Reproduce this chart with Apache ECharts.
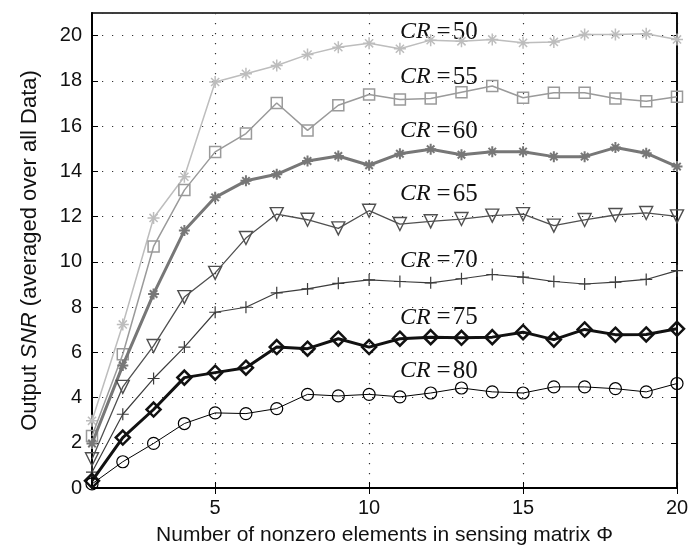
<!DOCTYPE html>
<html><head><meta charset="utf-8">
<script src="https://cdn.jsdelivr.net/npm/echarts@6/dist/echarts.min.js"></script>
<style>html,body{margin:0;padding:0;background:#fff}#c{width:692px;height:558px}</style>
</head><body><div id="c"></div>
<script>
const categories = [1,2,3,4,5,6,7,8,9,10,11,12,13,14,15,16,17,18,19,20];
const cr50 = [2.97,7.23,11.94,13.76,17.95,18.31,18.68,19.16,19.49,19.66,19.42,19.80,19.75,19.83,19.68,19.72,20.05,20.05,20.08,19.83];
const cr55 = [2.30,5.91,10.68,13.17,14.86,15.67,17.02,15.81,16.92,17.40,17.18,17.22,17.50,17.77,17.25,17.47,17.47,17.22,17.10,17.30];
const cr60 = [1.97,5.42,8.58,11.38,12.85,13.58,13.87,14.46,14.68,14.27,14.78,14.98,14.73,14.87,14.87,14.65,14.65,15.05,14.80,14.21];
const cr65 = [1.27,4.47,6.28,8.44,9.51,11.05,12.11,11.86,11.48,12.26,11.67,11.79,11.89,12.04,12.11,11.60,11.85,12.07,12.16,12.01];
const cr70 = [0.70,3.26,4.84,6.23,7.77,7.99,8.63,8.80,9.05,9.20,9.13,9.07,9.25,9.44,9.32,9.13,9.02,9.10,9.22,9.61];
const cr75 = [0.32,2.23,3.47,4.88,5.10,5.32,6.23,6.16,6.60,6.23,6.60,6.67,6.64,6.67,6.89,6.56,7.01,6.78,6.79,7.04];
const cr80 = [0.18,1.16,1.97,2.85,3.32,3.29,3.51,4.14,4.07,4.14,4.03,4.20,4.42,4.25,4.20,4.47,4.47,4.39,4.25,4.62];
const seriesNames = ['50','55','60','65','70','75','80'];
const seriesValues = [cr50, cr55, cr60, cr65, cr70, cr75, cr80];
const labelY = [20.16, 18.17, 15.78, 12.99, 10.05, 7.52, 5.17];
const yTicks = [0,2,4,6,8,10,12,14,16,18,20];

const ASTER = 'path://M5 0L5 10M0 5L10 5M1.6 1.6L8.4 8.4M8.4 1.6L1.6 8.4';
const PLUS = 'path://M5 0L5 10M0 5L10 5';
const styles = [
  {color:'#bdbdbd', w:1.5, sym:ASTER, size:12, bw:1.5, rot:0},
  {color:'#9a9a9a', w:1.5, sym:'rect', size:11, bw:1.5, rot:0},
  {color:'#777777', w:3, sym:ASTER, size:11, bw:2, rot:0},
  {color:'#505050', w:1.3, sym:'triangle', size:13, bw:1.4, rot:180},
  {color:'#3c3c3c', w:1.2, sym:PLUS, size:12, bw:1.2, rot:0},
  {color:'#111111', w:3, sym:'diamond', size:14, bw:2.5, rot:0},
  {color:'#000000', w:1, sym:'circle', size:12, bw:1.2, rot:0}
];

const chart = echarts.init(document.getElementById('c'), null, {renderer:'canvas'});
const every5 = (i) => (i + 1) % 5 === 0;
const serif = 'Liberation Serif';
const series = seriesValues.map((vals, k) => ({
  type:'line', name:'CR'+seriesNames[k], data:vals, xAxisIndex:0, yAxisIndex:0,
  symbol: styles[k].sym, symbolSize: styles[k].size, symbolRotate: styles[k].rot,
  showAllSymbol:true, animation:false, silent:true,
  lineStyle:{color:styles[k].color, width:styles[k].w},
  itemStyle:{color:'rgba(0,0,0,0)', borderColor:styles[k].color, borderWidth:styles[k].bw},
  z: 10 + k,
  markPoint:{
    symbol:'circle', symbolSize:0, animation:false, silent:true,
    data:[{coord:[10, labelY[k]]}],
    label:{show:true, position:'right', distance:0,
      formatter:'{cr|CR}{eq|=}{n|' + seriesNames[k] + '}',
      rich:{
        cr:{fontFamily:serif, fontStyle:'italic', fontSize:24, color:'#111'},
        eq:{fontFamily:serif, fontSize:25, color:'#111', padding:[0,2,0,6]},
        n:{fontFamily:serif, fontSize:25, color:'#111'}
      }
    }
  }
}));

chart.setOption({
  backgroundColor:'#fff',
  animation:false,
  grid:{left:92, right:15, top:13, bottom:70, show:true, borderColor:'#000', borderWidth:1.5},
  xAxis:[{
    type:'category', data:categories, boundaryGap:false, position:'bottom',
    axisLine:{show:true, lineStyle:{color:'#000', width:2}},
    axisTick:{show:true, inside:true, length:6, interval:every5, lineStyle:{color:'#000', width:1}},
    axisLabel:{interval:every5, color:'#111', fontFamily:'Liberation Sans', fontSize:20, margin:10},
    splitLine:{show:true, interval:every5, lineStyle:{color:'#333', width:1.2, type:[1.2,8.8]}},
    name:'Number of nonzero elements in sensing matrix Φ', nameLocation:'middle', nameGap:37,
    nameTextStyle:{color:'#111', fontFamily:'Liberation Sans', fontSize:21}
  },{
    type:'category', data:categories, boundaryGap:false, position:'top',
    axisLine:{show:true, lineStyle:{color:'#000', width:1.5}},
    axisTick:{show:true, inside:true, length:6, interval:every5, lineStyle:{color:'#000'}},
    axisLabel:{show:false}, splitLine:{show:false}
  }],
  yAxis:[{
    type:'value', min:0, max:21, interval:2, position:'left',
    axisLine:{show:true, lineStyle:{color:'#000', width:2}},
    axisTick:{show:true, inside:true, length:6, lineStyle:{color:'#000'}},
    axisLabel:{color:'#111', fontFamily:'Liberation Sans', fontSize:20, margin:10, showMaxLabel:false,
      formatter:(v)=> yTicks.indexOf(v) >= 0 ? String(v) : ''},
    splitLine:{show:true, lineStyle:{color:'#333', width:1.2, type:[1.2,8.8]}},
    name:'{a|Output }{b|SNR}{a| (averaged over all Data)}', nameLocation:'middle', nameGap:51,
    nameTextStyle:{rich:{
      a:{color:'#111', fontFamily:'Liberation Sans', fontSize:22},
      b:{color:'#111', fontFamily:'Liberation Sans', fontSize:22, fontStyle:'italic'}
    }}
  },{
    type:'value', min:0, max:21, interval:2, position:'right',
    axisLine:{show:true, lineStyle:{color:'#000', width:1.5}},
    axisTick:{show:true, inside:true, length:6, lineStyle:{color:'#000'}},
    axisLabel:{show:false}, splitLine:{show:false}
  }],
  series: series
});
</script></body></html>
